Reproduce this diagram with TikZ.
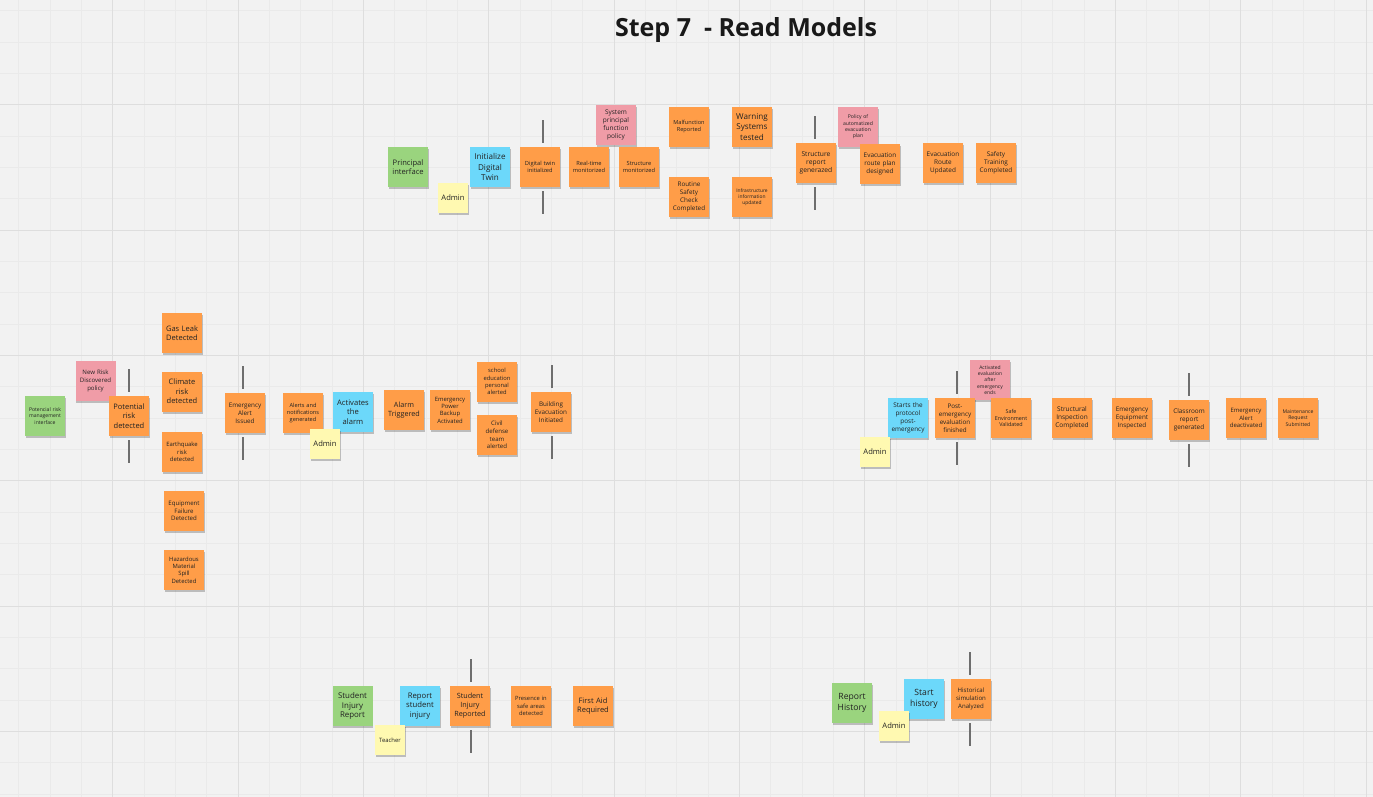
\documentclass[tikz,border=0pt]{standalone}
\usepackage{fontspec}
\setmainfont{Open Sans}
\usetikzlibrary{shadows}

\definecolor{board}{HTML}{F2F2F2}
\definecolor{minorline}{HTML}{EAEAEA}
\definecolor{majorline}{HTML}{DEDEDE}
\definecolor{ink}{HTML}{222222}
\definecolor{evtorange}{RGB}{255,157,72}
\definecolor{cmdblue}{RGB}{108,216,250}
\definecolor{viewgreen}{RGB}{154,212,126}
\definecolor{policypink}{RGB}{240,156,167}
\definecolor{actoryellow}{RGB}{255,249,177}
\definecolor{sepgray}{HTML}{6E6E6E}

\begin{document}
\begin{tikzpicture}[x=1pt,y=-1pt,
  note/.style={minimum width=40pt,minimum height=40pt,inner sep=0pt,text width=38pt,
    align=center,text=ink,
    drop shadow={shadow xshift=0.5pt,shadow yshift=-2.2pt,opacity=0.22,fill=black}},
  event/.style={note,fill=evtorange},
  command/.style={note,fill=cmdblue},
  view/.style={note,fill=viewgreen},
  policy/.style={note,fill=policypink},
  actor/.style={note,fill=actoryellow,minimum width=30pt,minimum height=30pt,text width=28pt},
  fs/.style={font=\fontsize{#1}{\fpeval{1.25*#1}}\selectfont},
  sep/.style={draw=sepgray,line width=1.3pt}]

% board and grid
\fill[board] (0,0) rectangle (1373,797);
\useasboundingbox (0,0) rectangle (1373,797);
\clip (0,0) rectangle (1373,797);
\foreach \i in {0,...,44}
    \draw[minorline,line width=0.8pt] ({18.7+\i*31.33},0) -- ++(0,797);
\foreach \i in {0,...,25}
    \draw[minorline,line width=0.8pt] (0,{10.7+\i*31.33}) -- ++(1373,0);
\foreach \i in {0,...,10}
    \draw[majorline,line width=1pt] ({112.7+\i*125.33},0) -- ++(0,797);
\foreach \i in {0,...,5}
    \draw[majorline,line width=1pt] (0,{104.7+\i*125.33}) -- ++(1373,0);

\node[font=\fontsize{25}{30}\selectfont\bfseries,text=black!90,anchor=base] (ttl) at (746,36.5) {Step 7\ \ - Read Models};

% digital twin flow
\node[view,fs=7.6] (pif) at (408,167) {Principal\\interface};
\node[command,fs=8.1] (idt) at (490,167) {Initialize\\Digital\\Twin};
\node[event,fs=5.7] (dti) at (540,167) {Digital twin\\initialized};
\node[event,fs=5.7] (rtm) at (589,167) {Real-time\\monitorized};
\node[policy,fs=6.5] (spf) at (616,125) {System\\principal\\function\\policy};
\node[event,fs=5.7] (stm) at (639,167) {Structure\\monitorized};
\node[event,fs=5.6] (mfr) at (689,127) {Malfunction\\Reported};
\node[event,fs=6.3] (rsc) at (689,197) {Routine\\Safety\\Check\\Completed};
\node[event,fs=8.1] (wst) at (752,127) {Warning\\Systems\\tested};
\node[event,fs=4.9] (iiu) at (752,197) {Infrastructure\\information\\updated};
\node[event,fs=6.7] (srg) at (816,163) {Structure\\report\\generazed};
\node[policy,fs=5.1] (pae) at (858,127) {Policy of\\automatized\\evacuation\\plan};
\node[event,fs=6.4] (erd) at (880,164) {Evacuation\\route plan\\designed};
\node[event,fs=6.4] (eru) at (943,163) {Evacuation\\Route\\Updated};
\node[event,fs=6.4] (stc) at (996,163) {Safety\\Training\\Completed};
\node[actor,fs=7.6] (adm1) at (453,198) {Admin};

% risk flow
\node[view,fs=5.1] (prm) at (45,416) {Potencial risk\\management\\interface};
\node[policy,fs=6.1] (nrd) at (95.5,381) {New Risk\\Discovered\\policy};
\node[event,fs=7.5] (prd) at (129,416) {Potential\\risk\\detected};
\node[event,fs=7.5] (gld) at (182,333) {Gas Leak\\Detected};
\node[event,fs=7.5] (crd) at (182,391.5) {Climate\\risk\\detected};
\node[event,fs=5.9] (eqd) at (182,452) {Earthquake\\risk\\detected};
\node[event,fs=6.1] (efd) at (184,511) {Equipment\\Failure\\Detected};
\node[event,fs=5.9] (hms) at (184,570) {Hazardous\\Material\\Spill\\Detected};
\node[event,fs=6.3] (eai) at (245,413) {Emergency\\Alert\\Issued};
\node[event,fs=5.6] (ang) at (303,413) {Alerts and\\notifications\\generated};
\node[command,fs=7.6] (ata) at (353,412) {Activates\\the\\alarm};
\node[event,fs=7.2] (atr) at (404,410) {Alarm\\Triggered};
\node[event,fs=5.9] (epb) at (450,410) {Emergency\\Power\\Backup\\Activated};
\node[event,fs=5.8] (sea) at (497,381.5) {school\\education\\personal\\alerted};
\node[event,fs=6.1] (cdt) at (497,435) {Civil\\defense\\team\\alerted};
\node[event,fs=6.3] (bei) at (551,412) {Building\\Evacuation\\Initiated};
\node[actor,fs=7.6] (adm2) at (325,443.5) {Admin};

% post-emergency flow
\node[command,fs=6.4] (spp) at (908,418) {Starts the\\protocol\\post-\\emergency};
\node[policy,fs=5.0] (aee) at (990,380) {Activated\\evaluation\\after\\emergency\\ends};
\node[event,fs=6.3] (pef) at (955,418) {Post-\\emergency\\evaluation\\finished};
\node[event,fs=5.4] (sev) at (1011,418) {Safe\\Environment\\Validated};
\node[event,fs=6.5] (sic) at (1072,418) {Structural\\Inspection\\Completed};
\node[event,fs=6.3] (eei) at (1132,418) {Emergency\\Equipment\\Inspected};
\node[event,fs=6.4] (crg) at (1189,420) {Classroom\\report\\generated};
\node[event,fs=6] (ead) at (1246,418) {Emergency\\Alert\\deactivated};
\node[event,fs=5.1] (mrs) at (1298,418) {Maintenance\\Request\\Submitted};
\node[actor,fs=7.6] (adm3) at (875,452) {Admin};

% injury and history flows
\node[view,fs=7.9] (sij) at (352.5,706) {Student\\Injury\\Report};
\node[command,fs=7.7] (rsi) at (420,706) {Report\\student\\injury};
\node[event,fs=7.2] (sir) at (470,706) {Student\\Injury\\Reported};
\node[event,fs=5.8] (psa) at (531,706) {Presence in\\safe areas\\detected};
\node[event,fs=7.5] (far) at (593,706) {First Aid\\Required};
\node[actor,fs=5.9] (tch) at (390,740) {Teacher};
\node[view,fs=8.6] (rph) at (852,703) {Report\\History};
\node[command,fs=8.6] (sth) at (924,699) {Start\\history};
\node[event,fs=6.1] (hsa) at (971,699) {Historical\\simulation\\Analyzed};
\node[actor,fs=7.6] (adm4) at (894,725.5) {Admin};

% pivotal event markers
\foreach \n/\dx in {dti/3,srg/-1,prd/0,eai/-2,bei/1,pef/2,crg/0,sir/1,hsa/-1} {
    \draw[sep] (\n.north) ++(\dx,-4) -- ++(0,-23);
    \draw[sep] (\n.south) ++(\dx,4) -- ++(0,23);
}
\end{tikzpicture}
\end{document}
